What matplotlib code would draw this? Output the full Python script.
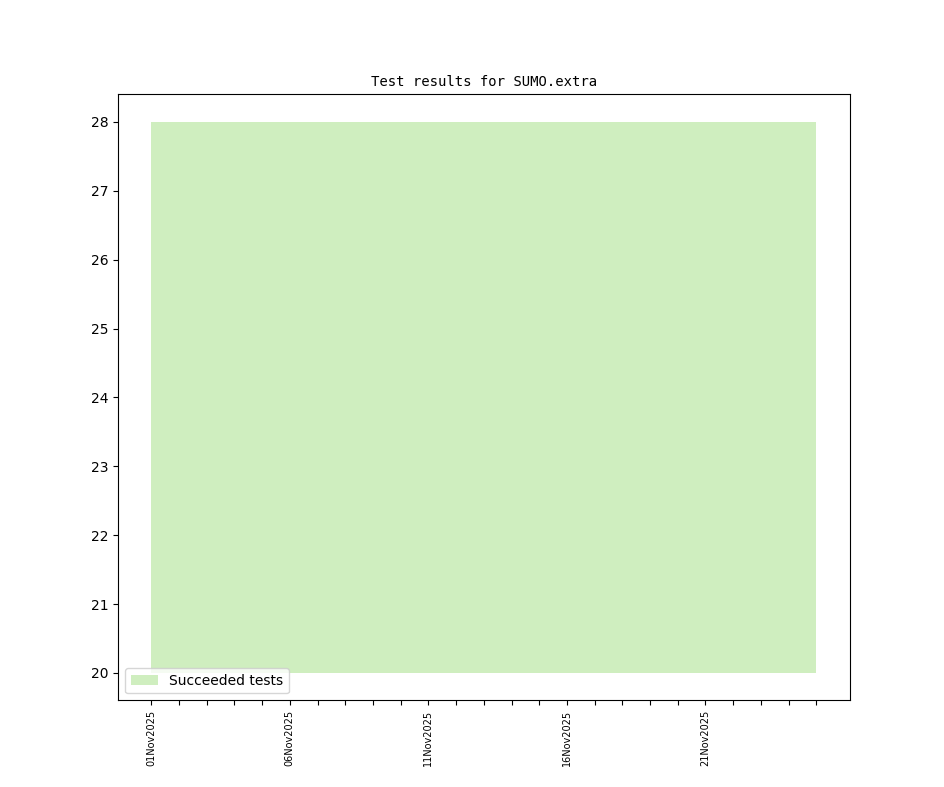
import datetime as dt

import matplotlib
matplotlib.use("Agg")
import matplotlib.pyplot as plt
import matplotlib.dates as mdates

# daily counts of succeeded tests, Nov 1 .. Nov 25 2025
days = [dt.date(2025, 11, d) for d in range(1, 26)]
succeeded = [28, 28, 28, 28, 28, 28, 28, 28, 28, 28, 28, 28, 28,
             28, 28, 28, 28, 28, 28, 28, 28, 28, 28, 28, 28]
baseline = [20, 20, 20, 20, 20, 20, 20, 20, 20, 20, 20, 20, 20,
            20, 20, 20, 20, 20, 20, 20, 20, 20, 20, 20, 20]
label_every = 5

fig, ax = plt.subplots(figsize=(9.44, 7.87), dpi=100)
ax.fill_between(days, baseline, succeeded, color="#cfeebf", linewidth=0,
                label="Succeeded tests")

ax.set_xticks(days)
ax.set_xticklabels(
    [d.strftime("%d%b%Y") if i % label_every == 0 else "" for i, d in enumerate(days)],
    rotation=90, fontsize=7,
)
ax.set_title("Test results for SUMO.extra", family="DejaVu Sans Mono", fontsize=10)
ax.legend(loc="lower left")

fig.savefig("out.png")
